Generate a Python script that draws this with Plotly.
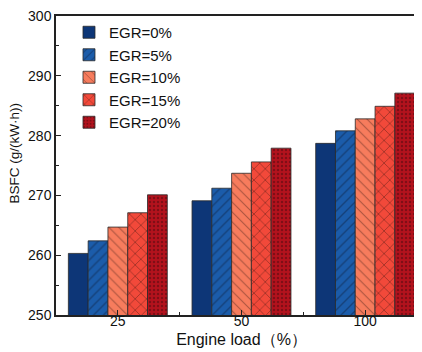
import plotly.graph_objects as go

loads = ["25", "50", "100"]
series_names = ["EGR=0%", "EGR=5%", "EGR=10%", "EGR=15%", "EGR=20%"]
bsfc_egr0 = [260.3, 269.1, 278.7]
bsfc_egr5 = [262.4, 271.2, 280.8]
bsfc_egr10 = [264.7, 273.7, 282.8]
bsfc_egr15 = [267.1, 275.6, 284.9]
bsfc_egr20 = [270.1, 277.9, 287.1]
y_ticks = [250, 260, 270, 280, 290, 300]

series_values = [bsfc_egr0, bsfc_egr5, bsfc_egr10, bsfc_egr15, bsfc_egr20]
colors = ["#0d3677", "#1b5caa", "#f77c5d", "#f2493a", "#b3121d"]
patterns = ["", "/", "\\", "x", "."]
pat_fg = ["#1a1a1a", "#10264a", "#5a2a1f", "#4a1a14", "#4a0a0e"]
pat_size = [8, 7, 7, 8, 4]
pat_sol = [0.3, 0.2, 0.15, 0.2, 0.3]

xpos = list(range(len(loads)))

fig = go.Figure()
for i, (name, vals) in enumerate(zip(series_names, series_values)):
    fig.add_trace(go.Bar(
        x=xpos, y=vals, name=name,
        marker=dict(
            color=colors[i],
            line=dict(color="#2a2a2a", width=0.8),
            pattern=dict(shape=patterns[i], fgcolor=pat_fg[i], bgcolor=colors[i],
                         size=pat_size[i], solidity=pat_sol[i], fillmode="overlay"),
        ),
    ))

fig.update_layout(
    width=422, height=352,
    margin=dict(l=48, r=3, t=8, b=45, autoexpand=False),
    paper_bgcolor="white", plot_bgcolor="white",
    barmode="group", bargap=0.2, bargroupgap=0,
    font=dict(family="Liberation Sans, Arial, sans-serif", size=13, color="#111"),
    showlegend=True,
    legend=dict(x=0.035, y=1.0, xanchor="left", yanchor="top",
                bgcolor="rgba(0,0,0,0)", font=dict(size=15), tracegroupgap=0,
                itemwidth=30),
    xaxis=dict(
        range=[-0.5, 2.5], tickmode="array", tickvals=xpos, ticktext=loads,
        ticks="inside", ticklen=5, tickwidth=1, tickcolor="#222",
        minor=dict(tickvals=[0.5, 1.5], ticks="inside", ticklen=3, tickcolor="#222"),
        showline=True, linecolor="#222", linewidth=1.5, mirror=True,
        showgrid=False, zeroline=False, automargin=False,
        tickfont=dict(size=14), ticklabelstandoff=-8,
        title=dict(text="Engine load（%）", font=dict(size=16), standoff=6),
    ),
    yaxis=dict(
        range=[250, 300], tickmode="array", tickvals=y_ticks,
        ticks="inside", ticklen=5, tickwidth=1, tickcolor="#222",
        minor=dict(dtick=5, ticks="inside", ticklen=3, tickcolor="#222"),
        showline=True, linecolor="#222", linewidth=1.5, mirror=True,
        showgrid=False, zeroline=False, automargin=False,
        tickfont=dict(size=14), ticklabeloverflow="allow",
    ),
    annotations=[dict(
        text="BSFC (g/(kW·h))", textangle=-90, showarrow=False,
        xref="paper", yref="paper", x=-0.112, y=0.542,
        xanchor="center", yanchor="middle", font=dict(size=13.5),
    )],
)

fig.write_html("out.html")
